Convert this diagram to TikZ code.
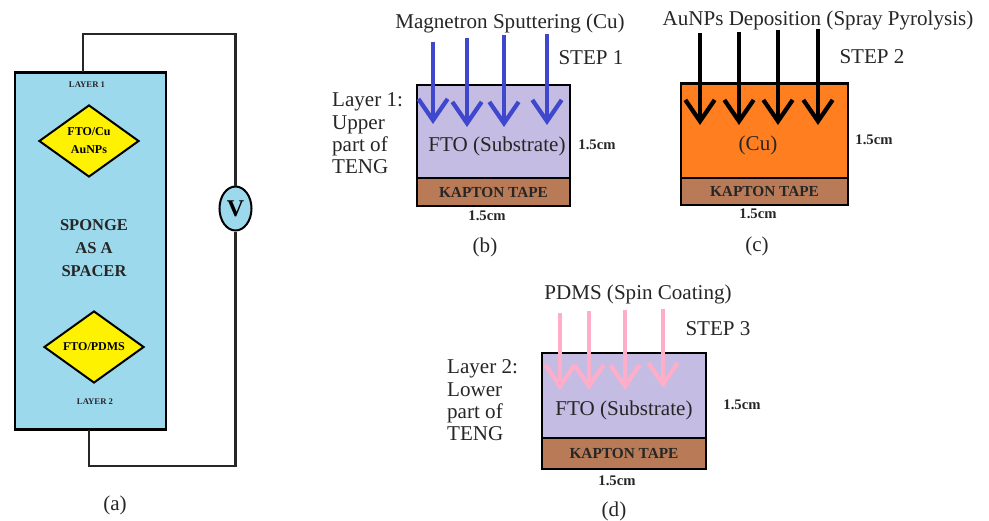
\documentclass[tikz,border=0pt]{standalone}
\usepackage{fontspec}
\setmainfont{Liberation Serif}
\usetikzlibrary{arrows.meta,shapes.geometric}
\definecolor{spongeblue}{HTML}{9DD9EC}
\definecolor{padyellow}{HTML}{FFF200}
\definecolor{ftolilac}{HTML}{C4BCE3}
\definecolor{kaptonbrown}{HTML}{B97A57}
\definecolor{cuorange}{HTML}{FF7F20}
\definecolor{inkblue}{HTML}{3F48CC}
\definecolor{inkpink}{HTML}{FFAEC9}
\definecolor{inkgrey}{HTML}{262626}
\tikzset{
  layerbox/.style={draw=black,line width=1.9pt,inner sep=0pt,minimum width=#1},
  wire/.style={draw=inkgrey,line width=1.9pt},
  pad/.style={diamond,draw=black,line width=1.5pt,fill=padyellow,inner sep=0pt,
    minimum width=75pt,minimum height=54pt,align=center,font=\fontsize{9}{13.5}\selectfont\bfseries},
  tiny label/.style={font=\fontsize{6.5}{8}\selectfont\bfseries,text=inkgrey},
  big label/.style={font=\fontsize{15.8}{16.8}\selectfont,text=inkgrey},
  size label/.style={font=\fontsize{11}{13}\selectfont\bfseries,text=inkgrey},
  tape label/.style={font=\fontsize{11.5}{13}\selectfont\bfseries,text=inkgrey},
  rain/.style={line width=3.2pt,-{Straight Barb[length=16pt,width=22pt]}},
}
\begin{document}
\begin{tikzpicture}[x=0.75pt,y=-0.75pt]
    \useasboundingbox (0,0) rectangle (989,521);
    % (a) device
    \node[layerbox=113pt,minimum height=268pt,fill=spongeblue] (sponge) at (90.5,251) {};
    \node[tiny label] (layerone) at (87,85) {LAYER 1};
    \node[pad] (padtop) at (89,141) {FTO/Cu\\AuNPs};
    \node[align=center,font=\fontsize{12.4}{17.25}\selectfont\bfseries,text=inkgrey] (spacer) at (94,248) {SPONGE\\AS A\\SPACER};
    \node[pad] (padlow) at (94,347) {FTO/PDMS};
    \node[tiny label] (layertwo) at (95,402) {LAYER 2};
    \node[ellipse,draw=black,line width=1.5pt,fill=spongeblue,inner sep=0pt,minimum width=24pt,minimum height=33pt,
      font=\fontsize{18}{18}\selectfont\bfseries] (meter) at (235.5,208.5) {V};
    \coordinate (wireup) at (83,72);
    \coordinate (wiredown) at (89,430);
    \coordinate (corneru) at (83,34);
    \coordinate (cornerd) at (89,466);
    \draw[wire] (wireup) -- (corneru) -| (meter.north);
    \draw[wire] (wiredown) -- (cornerd) -| (meter.south);
    \node[big label] (capa) at (115,505) {(a)};

    % (b) step 1
    \node[layerbox=115pt,minimum height=70pt,fill=ftolilac] (ftob) at (493.5,131.5) {};
    \node[layerbox=115pt,minimum height=21pt,fill=kaptonbrown] (tapeb) at (493.5,192) {};
    \node[big label] (nameb) at (497,146) {FTO (Substrate)};
    \node[tape label] at (tapeb) {KAPTON TAPE};
    \foreach \i/\x/\ys/\ye in {1/433/42/124,2/467/38/127,3/504/35/127,4/547/34/125} {
      \coordinate (bs\i) at (\x,\ys);
      \coordinate (be\i) at (\x,\ye);
      \draw[rain,inkblue] (bs\i) -- (be\i);
    }
    \node[big label] (titleb) at (510,23) {Magnetron Sputtering (Cu)};
    \node[big label] (stepb) at (591,58) {STEP 1};
    \node[big label,align=left,anchor=west] (layerb) at (327.5,133.5) {Layer 1:\\Upper\\part of\\TENG};
    \node[size label] (sizeby) at (597,145) {1.5cm};
    \node[size label] (sizebx) at (487,216) {1.5cm};
    \node[big label] (capb) at (485,247) {(b)};

    % (c) step 2
    \node[layerbox=125pt,minimum height=71pt,fill=cuorange] (cuc) at (764.5,131) {};
    \node[layerbox=125pt,minimum height=20pt,fill=kaptonbrown] (tapec) at (764.5,191.5) {};
    \node[big label] (namec) at (758,145) {(Cu)};
    \node[tape label] at (tapec) {KAPTON TAPE};
    \foreach \i/\x/\ys/\ye in {1/700/33/125,2/739/32/125,3/778/30/125,4/818/29/125} {
      \coordinate (cs\i) at (\x,\ys);
      \coordinate (ce\i) at (\x,\ye);
      \draw[rain,black] (cs\i) -- (ce\i);
    }
    \node[big label] (titlec) at (818,20) {AuNPs Deposition (Spray Pyrolysis)};
    \node[big label] (stepc) at (872,57) {STEP 2};
    \node[size label] (sizecy) at (874,140) {1.5cm};
    \node[size label] (sizecx) at (758,214) {1.5cm};
    \node[big label] (capc) at (757,246) {(c)};

    % (d) step 3
    \node[layerbox=123pt,minimum height=64pt,fill=ftolilac] (ftod) at (624,395.5) {};
    \node[layerbox=123pt,minimum height=23pt,fill=kaptonbrown] (taped) at (624,453.5) {};
    \node[big label] (named) at (624,410) {FTO (Substrate)};
    \node[tape label] at (taped) {KAPTON TAPE};
    \foreach \i/\x/\ys/\ye in {1/560/313/390,2/589/311/390,3/625/310/390,4/663/309/388} {
      \coordinate (ds\i) at (\x,\ys);
      \coordinate (de\i) at (\x,\ye);
      \draw[rain,inkpink] (ds\i) -- (de\i);
    }
    \node[big label] (titled) at (638,294) {PDMS (Spin Coating)};
    \node[big label] (stepd) at (718,329) {STEP 3};
    \node[big label,align=left,anchor=west] (layerd) at (442.5,400.5) {Layer 2:\\Lower\\part of\\TENG};
    \node[size label] (sizedy) at (742,405) {1.5cm};
    \node[size label] (sizedx) at (617,481) {1.5cm};
    \node[big label] (capd) at (614,511) {(d)};
  \end{tikzpicture}
\end{document}
